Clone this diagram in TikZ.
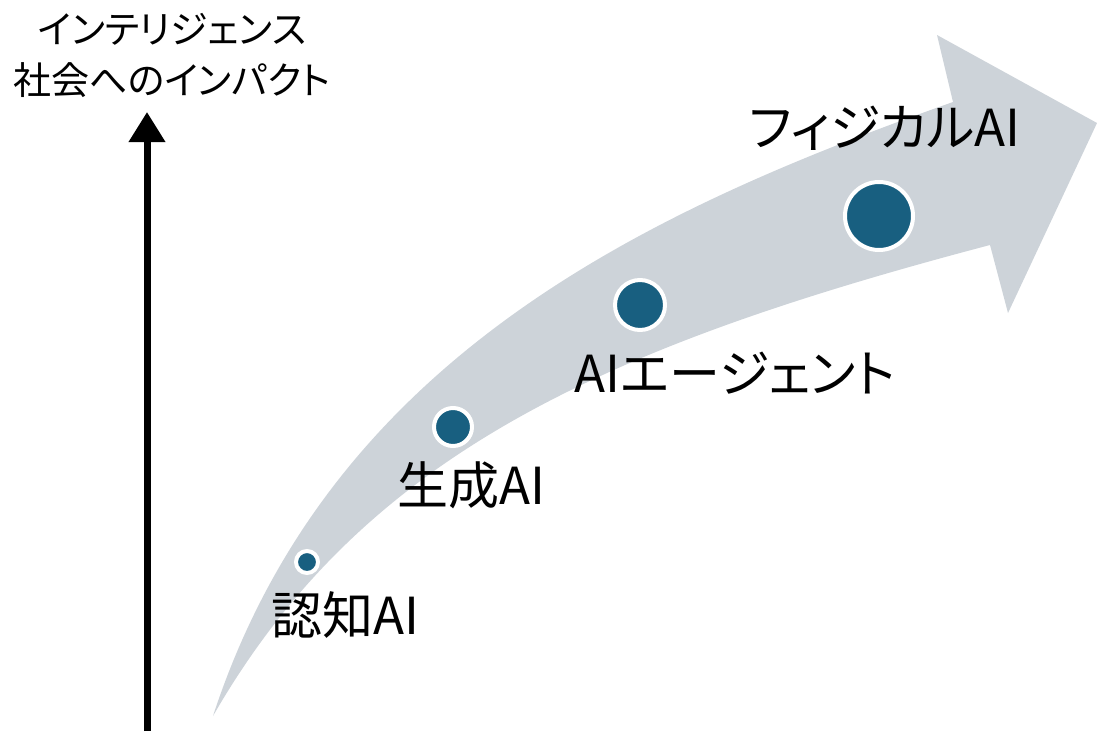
\documentclass[tikz,border=0pt]{standalone}
\usepackage{fontspec}
\setmainfont{Noto Sans CJK JP}[RawFeature=+palt]
\usetikzlibrary{arrows.meta}
\definecolor{flowgray}{RGB}{205,211,217}
\definecolor{dotblue}{RGB}{24,95,128}
\begin{document}
\begin{tikzpicture}[x=1pt,y=-1pt,
    dot/.style={circle,fill=dotblue,draw=white,line width=4pt,inner sep=0pt},
    stage/.style={font=\fontsize{51}{58}\selectfont,inner sep=0pt}]
  \useasboundingbox (0,0) rectangle (1097,731);
  \fill[flowgray] (213,716) .. controls (331,355) and (651,209) .. (953,102)
     -- (937,35) -- (1097,123) -- (1008,313) -- (990,245)
     .. controls (603,347) and (363,455) .. cycle;
  \coordinate (axisbot) at (147,731);
  \coordinate (axistop) at (147,112);
  \draw[line width=7pt,-{Triangle[length=30pt,width=35pt]}] (axisbot) -- (axistop);
  \node[align=center,font=\fontsize{38}{51}\selectfont,inner sep=0pt] (impact) at (172,55)
     {インテリジェンス\\社会へのインパクト};
  \node[dot,minimum size=22pt] (ninchi) at (307,562) {};
  \node[dot,minimum size=38pt] (seisei) at (453,427) {};
  \node[dot,minimum size=50pt] (agent) at (640,305) {};
  \node[dot,minimum size=68pt] (physical) at (879,216) {};
  \node[stage] (ninchilbl) at (345,615) {認知AI};
  \node[stage] (seiseilbl) at (471,485) {生成AI};
  \node[stage] (agentlbl) at (735,373) {AIエージェント};
  \node[stage] (physicallbl) at (885,128) {フィジカルAI};
\end{tikzpicture}
\end{document}
